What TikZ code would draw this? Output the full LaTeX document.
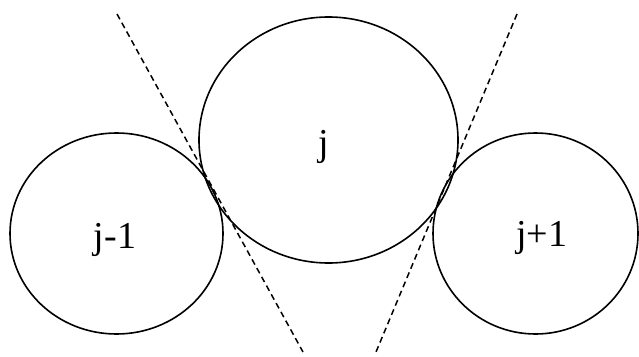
\documentclass[tikz,border=0pt]{standalone}
\usepackage{fontspec}
\setmainfont{Liberation Serif}
\usetikzlibrary{shapes.geometric}
\begin{document}
\begin{tikzpicture}[x=1pt,y=-1pt,
  disc/.style={draw, ellipse, line width=1.6pt, inner sep=0pt},
  lbl/.style={font=\fontsize{38}{42}\selectfont, inner sep=0pt, anchor=base},
  tangent/.style={line width=1.5pt, dash pattern=on 6pt off 4pt}]
\useasboundingbox (0,0) rectangle (639,356);
\node[disc, minimum width=213pt, minimum height=201pt] (left) at (116.5,233.5) {};
\node[disc, minimum width=259pt, minimum height=246pt] (mid) at (328.5,140) {};
\node[disc, minimum width=205pt, minimum height=201pt] (right) at (535.5,233.5) {};
\node[lbl] (tl) at (115,248) {j-1};
\node[lbl] (tm) at (323.5,155) {j};
\node[lbl] (tr) at (541.5,246) {j+1};
\coordinate (a1) at (117,14);
\coordinate (a2) at (303,352);
\coordinate (b1) at (517,14);
\coordinate (b2) at (376,352);
\draw[tangent] (a1) -- (a2);
\draw[tangent] (b1) -- (b2);
\end{tikzpicture}
\end{document}
